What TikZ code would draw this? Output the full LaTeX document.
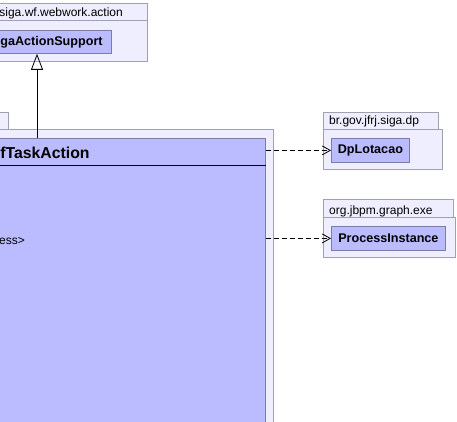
\documentclass[tikz,border=0pt]{standalone}
\usepackage{fontspec}
\setmainfont{Liberation Sans}
\usetikzlibrary{arrows.meta}

\definecolor{pkgfill}{HTML}{EEEEFF}
\definecolor{pkgline}{HTML}{A0A0B0}
\definecolor{clsfill}{HTML}{BBBBFF}
\definecolor{clsline}{HTML}{7C7CA8}

\tikzset{
  pkg/.style={draw=pkgline, fill=pkgfill, line width=0.8pt},
  cls/.style={draw=clsline, fill=clsfill, line width=0.8pt, inner sep=0pt,
    font=\fontsize{12.6}{15}\selectfont\bfseries},
  pkglabel/.style={inner sep=0pt, font=\fontsize{12}{14}\selectfont},
  inherit/.style={line width=0.8pt, -{Triangle[open, length=16pt, width=12pt]}},
  uses/.style={line width=0.8pt, dash pattern=on 5pt off 3pt,
    -{Straight Barb[length=8pt, width=9pt]}}
}

\begin{document}
\begin{tikzpicture}[x=1pt, y=-1pt]

    \useasboundingbox (0,0) rectangle (457,422);
    \clip (0,0) rectangle (457,422);

    % Package siga.wf.webwork.action
    \draw[pkg] (-5, 3) rectangle (147, 20);
    \draw[pkg] (-5, 20) rectangle (147, 61);
    \node[pkglabel, anchor=base east] (pkgaction) at (123, 16.5) {siga.wf.webwork.action};
    \node[cls, anchor=north west, minimum width=116pt, minimum height=23pt] (support) at (-5, 30) {};
    \node[cls, anchor=base east, draw=none, fill=none] (supportname) at (103, 46) {gaActionSupport};

    % Package of the task action
    \draw[pkg] (-5, 112) rectangle (8, 129);
    \draw[pkg] (-5, 129) rectangle (273, 440);
    \node[cls, anchor=north west, minimum width=270pt, minimum height=300pt] (task) at (-5, 138) {};
    \draw[black, line width=0.8pt] (task.west |- 0, 165) -- (task.east |- 0, 165);
    \node[cls, anchor=base east, draw=none, fill=none, font=\fontsize{15.8}{18}\selectfont\bfseries] (taskname) at (90, 158.5) {fTaskAction};
    \node[pkglabel, anchor=base east] (taskattr) at (25, 244.5) {ess>};

    % Package br.gov.jfrj.siga.dp
    \draw[pkg] (323, 112) rectangle (438, 129);
    \draw[pkg] (323, 129) rectangle (442, 169);
    \node[pkglabel, anchor=base west] (pkgdp) at (329, 125) {br.gov.jfrj.siga.dp};
    \node[cls, anchor=north west, minimum width=78pt, minimum height=24pt] (dplotacao) at (331, 138) {DpLotacao};

    % Package org.jbpm.graph.exe
    \draw[pkg] (323, 199) rectangle (453, 217);
    \draw[pkg] (323, 217) rectangle (455, 257);
    \node[pkglabel, anchor=base west] (pkgexe) at (329, 214) {org.jbpm.graph.exe};
    \node[cls, anchor=north west, minimum width=114pt, minimum height=24pt] (procinst) at (331, 226) {ProcessInstance};

    \coordinate (inhbase) at (37, 138);

    \draw[inherit] (inhbase) -- (support.south -| inhbase);
    \draw[uses] (dplotacao.west -| task.east) -- (dplotacao.west);
    \draw[uses] (procinst.west -| task.east) -- (procinst.west);

\end{tikzpicture}
\end{document}
